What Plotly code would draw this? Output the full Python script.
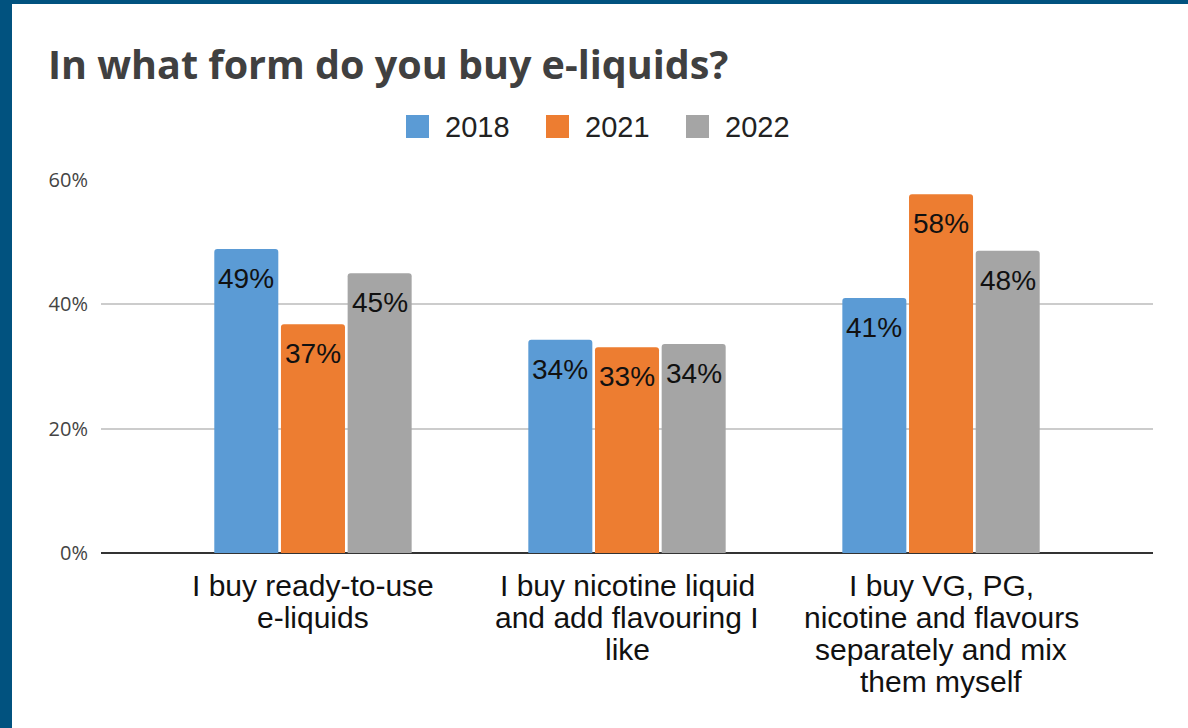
import plotly.graph_objects as go

categories = [
    "I buy ready-to-use<br>e-liquids",
    "I buy nicotine liquid<br>and add flavouring I<br>like",
    "I buy VG, PG,<br>nicotine and flavours<br>separately and mix<br>them myself",
]
series_names = ["2018", "2021", "2022"]
values_2018 = [48.9, 34.3, 41.0]
values_2021 = [36.8, 33.1, 57.7]
values_2022 = [45.0, 33.6, 48.6]
labels_2018 = ["49%", "34%", "41%"]
labels_2021 = ["37%", "33%", "58%"]
labels_2022 = ["45%", "34%", "48%"]
y_ticks = [0, 20, 40, 60]
y_tick_labels = ["0%", "20%", "40%", "60%"]

colors = ["#5b9bd5", "#ed7d31", "#a5a5a5"]
W, H = 1188, 728
ML, MR, MT, MB = 101, 35, 180, 175
PW, PH = W - ML - MR, H - MT - MB
X_RANGE = [-0.675, 2.675]
BARGAP, GROUPGAP = 0.363, 0.04

def px_x(p):
    return (p - ML) / PW

def px_y(p):
    return (H - MB - p) / PH

slot_px = PW / (X_RANGE[1] - X_RANGE[0])
bar_slot_px = slot_px * (1 - BARGAP) / len(series_names)

fig = go.Figure()
shapes = []
annotations = []
series_values = [values_2018, values_2021, values_2022]
series_labels = [labels_2018, labels_2021, labels_2022]
for i, (name, vals, labs, col) in enumerate(zip(series_names, series_values,
                                                series_labels, colors)):
    fig.add_trace(go.Bar(
        x=categories, y=vals, name=name,
        marker=dict(color=col, cornerradius=3, line=dict(width=0)),
        showlegend=False, hoverinfo="skip",
    ))
    offset = (i - (len(series_names) - 1) / 2) * bar_slot_px
    for cat, v, lab in zip(categories, vals, labs):
        annotations.append(dict(
            x=cat, y=v, xref="x", yref="y", text=lab, showarrow=False,
            xanchor="center", yanchor="top", xshift=offset, yshift=-12,
            font=dict(family="Liberation Sans, Arial", size=28, color="#111111")))

shapes.append(dict(type="rect", xref="paper", yref="paper",
                   x0=px_x(0), x1=px_x(12), y0=px_y(H), y1=px_y(0),
                   fillcolor="#01527f", line=dict(width=0), layer="above"))
shapes.append(dict(type="rect", xref="paper", yref="paper",
                   x0=px_x(0), x1=px_x(W), y0=px_y(4), y1=px_y(0),
                   fillcolor="#01527f", line=dict(width=0), layer="above"))
legend_x = [406, 546, 686]
for name, col, lx in zip(series_names, colors, legend_x):
    shapes.append(dict(type="rect", xref="paper", yref="paper",
                       x0=px_x(lx), x1=px_x(lx + 23), y0=px_y(138), y1=px_y(115),
                       fillcolor=col, line=dict(width=0)))
    annotations.append(dict(xref="paper", yref="paper", x=px_x(lx + 37), y=px_y(127),
                            text=name, showarrow=False, xanchor="left", yanchor="middle",
                            font=dict(family="Liberation Sans, Arial", size=29, color="#222222")))

for cat in categories:
    for j, line in enumerate(cat.split("<br>")):
        annotations.append(dict(
            x=cat, xref="x", yref="paper", y=px_y(585 + 32 * j), text=line,
            showarrow=False, xanchor="center", yanchor="middle",
            font=dict(family="Liberation Sans, Arial", size=30, color="#111111")))

fig.update_layout(
    width=W, height=H,
    margin=dict(l=ML, r=MR, t=MT, b=MB, pad=0),
    paper_bgcolor="white", plot_bgcolor="white",
    title=dict(text="<b>In what form do you buy e-liquids?</b>",
               x=48 / W, xref="container", xanchor="left",
               y=1 - 65 / H, yref="container", yanchor="middle",
               font=dict(family="Open Sans", size=39.5, color="#404040")),
    barmode="group", bargap=BARGAP, bargroupgap=GROUPGAP,
    shapes=shapes, annotations=annotations,
)
fig.update_xaxes(range=X_RANGE, showgrid=False, showline=False,
                 ticks="", showticklabels=False)
fig.update_yaxes(range=[0, 60], tickvals=y_ticks, ticktext=y_tick_labels,
                 showgrid=True, gridcolor="#cccccc", gridwidth=1.5,
                 zeroline=True, zerolinecolor="#333333", zerolinewidth=1.5,
                 showline=False, ticks="", ticklabelstandoff=12,
                 tickfont=dict(family="Open Sans", size=20, color="#444444"))
fig.write_html("out.html")
